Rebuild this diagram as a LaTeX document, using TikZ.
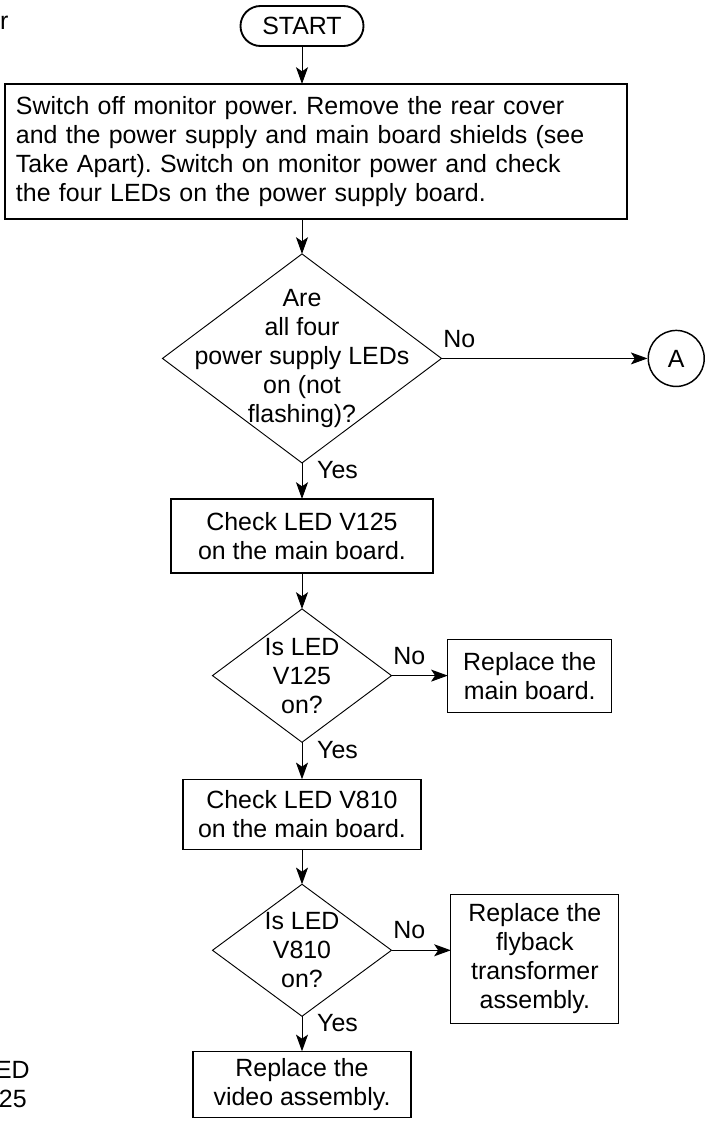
\documentclass[tikz,border=0pt]{standalone}
\usepackage{fontspec}
\setmainfont{Liberation Sans}
\frenchspacing
\usetikzlibrary{shapes.geometric, arrows.meta, positioning}

\begin{document}
\begin{tikzpicture}[
  every node/.style = {font=\fontsize{18.7pt}{21.75pt}\selectfont},
  term/.style  = {rectangle, rounded corners=15pt, draw, line width=1.4pt, minimum width=92.25pt, minimum height=30pt, inner sep=0pt},
  proc/.style  = {rectangle, draw, line width=0.9pt, align=center, inner sep=0pt, outer sep=0pt},
  dec/.style   = {diamond, draw, line width=0.7pt, inner sep=0pt, outer sep=0pt},
  qtxt/.style  = {align=center, inner sep=0pt},
  conn/.style  = {circle, draw, line width=1.1pt, minimum size=42pt, inner sep=0pt},
  nolbl/.style = {pos=0, anchor=south west, inner sep=0pt, yshift=8pt, xshift=1pt},
  yeslbl/.style= {pos=.2, anchor=west, inner sep=0pt, xshift=11pt},
  stray/.style = {inner sep=0pt, anchor=base east},
  arr/.style   = {-{Stealth[length=12.5pt, width=9pt, inset=3pt]}, line width=0.75pt}
]
\useasboundingbox (0,0) rectangle (534.75pt,-840.75pt);

\node[term] (start) at (226.5pt,-19.5pt) {START};
\node[proc, below=27.75pt of start, xshift=10.5pt, minimum width=466.5pt, minimum height=101.25pt,
      text width=450pt, align=left] (setup)
  {Switch off monitor power. Remove the rear cover\\
   and the power supply and main board shields (see\\
   Take Apart). Switch on monitor power and check\\
   the four LEDs on the power supply board.};
\node[dec, below=26.25pt of setup, xshift=-10.5pt, minimum width=209.25pt, minimum height=156.75pt] (q1) {};
\node[qtxt] (q1t) at (q1) {Are\\all four\\power supply LEDs\\on (not\\flashing)?};
\node[conn, right=154.5pt of q1] (a) {A};

\node[proc, below=27pt of q1, minimum width=196.5pt, minimum height=55.5pt] (chk1) {Check LED V125\\on the main board.};
\node[dec, below=27pt of chk1, minimum width=134.25pt, minimum height=100pt] (q2) {};
\node[qtxt] (q2t) at (q2) {Is LED\\V125\\on?};
\node[proc, right=42.2pt of q2, minimum width=123pt, minimum height=54.75pt] (rep1) {Replace the\\main board.};

\node[proc, below=27.75pt of q2, minimum width=178.5pt, minimum height=52.5pt] (chk2) {Check LED V810\\on the main board.};
\node[dec, below=26.25pt of chk2, minimum width=134.25pt, minimum height=99pt] (q3) {};
\node[qtxt] (q3t) at (q3) {Is LED\\V810\\on?};
\node[proc, right=44.5pt of q3, yshift=-6.4pt, minimum width=126pt, minimum height=96.75pt] (rep2)
  {Replace the\\flyback\\transformer\\assembly.};
\node[proc, below=26.25pt of q3, minimum width=163.5pt, minimum height=49.5pt] (rep3) {Replace the\\video assembly.};

% bits of the neighbouring page
\node[stray] (edge1) at (6.5pt,-21.75pt) {r};
\node[stray] (edge2) at (22.5pt,-808.5pt) {LED};
\node[stray] (edge3) at (20.25pt,-830.25pt) {V125};

\draw[arr] (start) -- (start |- setup.north);
\draw[arr] (setup.south -| q1) -- (q1);
\draw[arr] (q1) -- node[nolbl]{No} (a);
\draw[arr] (q1) -- node[yeslbl]{Yes} (chk1);
\draw[arr] (chk1) -- (q2);
\draw[arr] (q2) -- node[nolbl]{No} (rep1);
\draw[arr] (q2) -- node[yeslbl]{Yes} (chk2);
\draw[arr] (chk2) -- (q3);
\draw[arr] (q3.east) -- node[nolbl]{No} (q3.east -| rep2.west);
\draw[arr] (q3) -- node[yeslbl]{Yes} (rep3);
\end{tikzpicture}
\end{document}
